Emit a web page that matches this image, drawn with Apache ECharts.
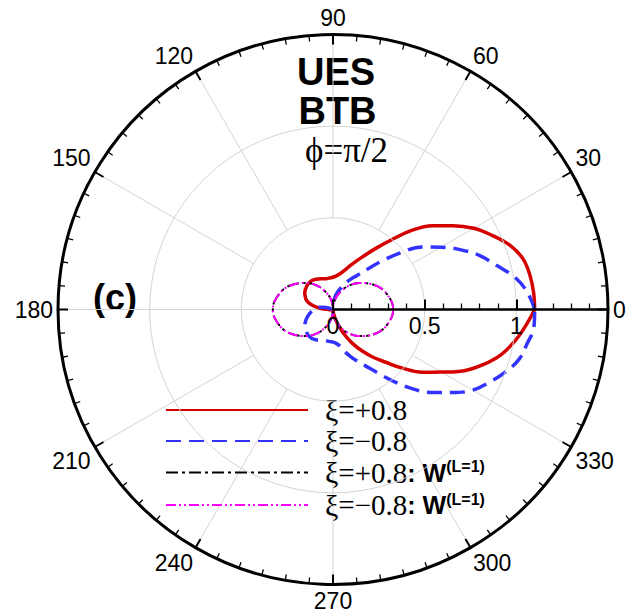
<!DOCTYPE html>
<html>
<head>
<meta charset="utf-8">
<script src="https://cdn.jsdelivr.net/npm/echarts/dist/echarts.min.js"></script>
<style>
html,body{margin:0;padding:0;background:#fff;}
#chart{width:626px;height:613px;}
</style>
</head>
<body>
<div id="chart"></div>
<script>
// ---- data (angle in degrees, radius values) ----
const angles = [0,5,10,15,20,25,30,35,40,45,50,55,60,65,70,75,80,85,90,95,100,105,110,115,120,125,130,135,140,145,150,155,160,165,170,175,180,
                185,190,195,200,205,210,215,220,225,230,235,240,245,250,255,260,265,270,275,280,285,290,295,300,305,310,315,320,325,330,335,340,345,350,355,360];
const rPlus  = [1.10,1.098,1.09,1.072,1.026,0.957,0.886,0.797,0.71,0.612,0.497,0.407,0.337,0.287,0.246,0.215,0.195,0.183,0.176,0.173,0.172,
                0.174,0.178,0.184,0.19,0.195,0.196,0.194,0.19,0.185,0.178,0.167,0.155,0.135,0.105,0.065,0.026,0.01,
                0.004,0.004,0.004,0.004,0.004,0.004,0.004,0.004,0.004,0.004,0.004,0.004,0.004,0.004,0.004,
                0.006,0.008,0.015,0.03,0.06,0.10,0.155,0.215,0.275,0.34,0.407,0.50,0.597,0.683,0.79,0.875,0.95,1.005,1.053,1.10];
const rMinus = [1.10,1.065,1.008,0.925,0.855,0.77,0.68,0.595,0.48,0.37,0.28,0.225,0.19,0.155,0.125,0.10,0.075,0.045,0.022,0.01,0.005,
                0.004,0.004,0.004,0.004,0.004,0.004,0.004,0.004,0.004,0.004,0.004,
                0.015,0.04,0.07,0.09,0.105,0.118,0.13,0.143,0.155,0.167,0.178,0.185,0.19,0.194,0.196,0.195,0.19,0.184,0.178,0.176,0.175,
                0.176,0.178,0.185,0.20,0.235,0.27,0.31,0.355,0.42,0.51,0.61,0.705,0.79,0.88,0.94,1.00,1.05,1.075,1.10,1.10];
const rPlusW  = [0.328,0.326,0.318,0.308,0.297,0.283,0.265,0.245,0.225,0.205,0.185,0.162,0.14,0.115,0.092,0.07,0.048,0.024,0.0,
                 0.024,0.048,0.07,0.092,0.115,0.14,0.162,0.185,0.205,0.225,0.245,0.265,0.283,0.297,0.308,0.318,0.326,0.328,
                 0.326,0.318,0.308,0.297,0.283,0.265,0.245,0.225,0.205,0.185,0.162,0.14,0.115,0.092,0.07,0.048,0.024,0.0,
                 0.024,0.048,0.07,0.092,0.115,0.14,0.162,0.185,0.205,0.225,0.245,0.265,0.283,0.297,0.308,0.318,0.326,0.328];
const rMinusW = [0.328,0.326,0.318,0.308,0.297,0.283,0.265,0.245,0.225,0.205,0.185,0.162,0.14,0.115,0.092,0.07,0.048,0.024,0.0,
                 0.024,0.048,0.07,0.092,0.115,0.14,0.162,0.185,0.205,0.225,0.245,0.265,0.283,0.297,0.308,0.318,0.326,0.328,
                 0.326,0.318,0.308,0.297,0.283,0.265,0.245,0.225,0.205,0.185,0.162,0.14,0.115,0.092,0.07,0.048,0.024,0.0,
                 0.024,0.048,0.07,0.092,0.115,0.14,0.162,0.185,0.205,0.225,0.245,0.265,0.283,0.297,0.308,0.318,0.326,0.328];
const angleTickLabels  = [0,30,60,90,120,150,180,210,240,270,300,330];
const radiusTickLabels = [0,0.5,1];
const seriesNames = ['p','n','pw','nw'];
const legendTexts = {
  p:  '{sp| }{xi|ξ}{v|=+0.8}',
  n:  '{sp| }{xi|ξ}{v|=−0.8}',
  pw: '{sp| }{xi|ξ}{v|=+0.8}{b|: W}{sup|(L=1)}',
  nw: '{sp| }{xi|ξ}{v|=−0.8}{b|: W}{sup|(L=1)}'
};
const legendRowY = [410, 441, 472.5, 505];   // centre line of each legend row

const toPolar = arr => arr.map((r, i) => [r, angles[i]]);

const CX = 333, CY = 309.5, R = 275;
const SANS = '"Liberation Sans", Arial, sans-serif';
const SERIF = '"Liberation Serif", "DejaVu Serif", "Times New Roman", serif';
const gridGray = '#d4d4d4';
const ICON_H = 50;

const legendRich = {
  sp: {width: 12, lineHeight: 28},
  xi: {fontFamily: SERIF, fontSize: 30, lineHeight: 28},
  v: {fontFamily: SERIF, fontSize: 29, lineHeight: 28},
  b: {fontFamily: SANS, fontWeight: 'bold', fontSize: 25, lineHeight: 28},
  sup: {fontFamily: SANS, fontWeight: 'bold', fontSize: 16, lineHeight: 10, verticalAlign: 'top'}
};

const legends = seriesNames.map((name, i) => ({
  orient: 'vertical', left: 160, top: legendRowY[i] - ICON_H / 2,
  itemWidth: 142, itemHeight: ICON_H, itemGap: 0,
  selectedMode: false, data: [name],
  itemStyle: {opacity: 0, color: 'rgba(0,0,0,0)', borderWidth: 0},
  formatter: n => legendTexts[n],
  textStyle: {color: '#000', rich: legendRich}
}));

const chart = echarts.init(document.getElementById('chart'), null, {renderer: 'svg'});

const option = {
  animation: false,
  backgroundColor: '#fff',
  polar: [
    {center: [CX, CY], radius: [0, R]},
    {center: [CX, CY], radius: [R / 3, R]},
    {center: [CX, CY], radius: [0, R]}
  ],
  angleAxis: [
    {
      polarIndex: 0, type: 'value', min: 0, max: 360, interval: 30,
      startAngle: 0, clockwise: false, z: 10,
      axisLine: {show: true, lineStyle: {color: '#000', width: 3}},
      axisTick: {show: true, inside: true, length: 10, lineStyle: {color: '#000', width: 2}},
      minorTick: {show: true, splitNumber: 6, length: 6, lineStyle: {color: '#000', width: 1.3}},
      axisLabel: {
        show: true, margin: 5, color: '#000', fontSize: 23, fontFamily: SANS,
        formatter: v => angleTickLabels.includes(v) ? String(v) : ''
      },
      splitLine: {show: false}
    },
    {
      polarIndex: 1, type: 'value', min: 0, max: 360, interval: 30,
      startAngle: 0, clockwise: false,
      axisLine: {show: false}, axisTick: {show: false}, axisLabel: {show: false},
      splitLine: {show: true, lineStyle: {color: gridGray, width: 1}}
    },
    {
      polarIndex: 2, type: 'value', min: 0, max: 360, startAngle: 180, clockwise: false,
      axisLine: {show: false}, axisTick: {show: false}, axisLabel: {show: false}, splitLine: {show: false}
    }
  ],
  radiusAxis: [
    {
      polarIndex: 0, type: 'value', min: 0, max: 1.5, interval: 0.5, z: 10,
      axisLine: {show: true, lineStyle: {color: '#000', width: 2.5}},
      axisTick: {show: true, length: 10, lineStyle: {color: '#000', width: 2}},
      minorTick: {show: true, splitNumber: 5, length: 6, lineStyle: {color: '#000', width: 1.3}},
      axisLabel: {
        show: true, margin: -5, verticalAlign: 'top', color: '#000', fontSize: 23, fontFamily: SANS,
        formatter: v => radiusTickLabels.includes(v) ? String(v) : ''
      },
      splitLine: {show: true, lineStyle: {color: gridGray, width: 1}}
    },
    {polarIndex: 1, type: 'value', min: 0, max: 1.5, show: false, splitLine: {show: false}},
    {
      polarIndex: 2, type: 'value', min: 0, max: 1.5,
      axisLine: {show: true, lineStyle: {color: gridGray, width: 1}},
      axisTick: {show: false}, axisLabel: {show: false}, splitLine: {show: false}
    }
  ],
  legend: legends,
  graphic: [
    {type: 'text', x: 336, y: 71.5, style: {text: 'UES', font: 'bold 38px ' + SANS, align: 'center', verticalAlign: 'middle', fill: '#000'}},
    {type: 'text', x: 337.5, y: 110.5, style: {text: 'BTB', font: 'bold 38px ' + SANS, align: 'center', verticalAlign: 'middle', fill: '#000'}},
    {type: 'text', x: 346.5, y: 150, style: {text: 'ϕ=π/2', font: '35px ' + SERIF, align: 'center', verticalAlign: 'middle', fill: '#000'}},
    {type: 'text', x: 115, y: 297.5, style: {text: '(c)', font: 'bold 36px ' + SANS, align: 'center', verticalAlign: 'middle', fill: '#000'}}
  ],
  series: [
    {name: 'p', type: 'line', coordinateSystem: 'polar', polarIndex: 0, data: toPolar(rPlus),
     smooth: 0.4, symbol: 'none', z: 3,
     lineStyle: {color: '#d40000', width: 3.5, type: 'solid'}, itemStyle: {color: '#d40000'}},
    {name: 'n', type: 'line', coordinateSystem: 'polar', polarIndex: 0, data: toPolar(rMinus),
     smooth: 0.4, symbol: 'none', z: 3,
     lineStyle: {color: '#3333ff', width: 3.5, type: [15, 8]}, itemStyle: {color: '#3333ff'}},
    {name: 'pw', type: 'line', coordinateSystem: 'polar', polarIndex: 0, data: toPolar(rPlusW),
     smooth: 0.4, symbol: 'none', z: 4,
     lineStyle: {color: '#000', width: 2, type: [12, 4, 3, 4]}, itemStyle: {color: '#000'}},
    {name: 'nw', type: 'line', coordinateSystem: 'polar', polarIndex: 0, data: toPolar(rMinusW),
     smooth: 0.4, symbol: 'none', z: 5,
     lineStyle: {color: '#ff00ff', width: 2, type: [10, 3, 2, 3, 2, 3]}, itemStyle: {color: '#ff00ff'}}
  ]
};
chart.setOption(option);
</script>
</body>
</html>
